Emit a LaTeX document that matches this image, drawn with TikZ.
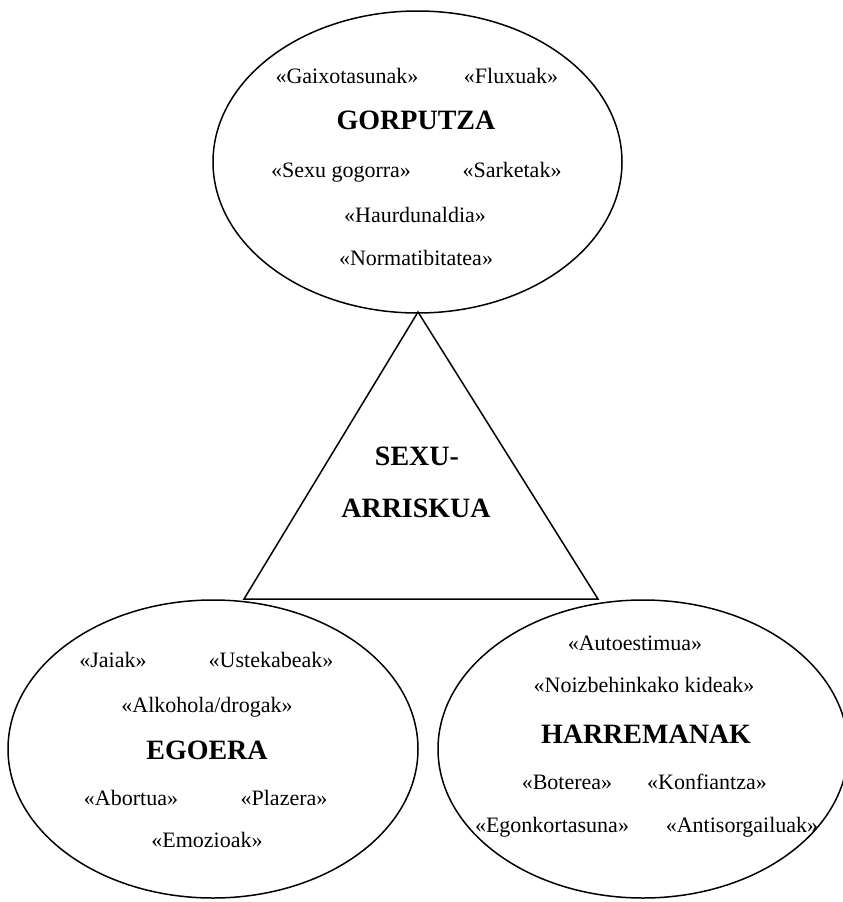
\documentclass[tikz,border=0pt]{standalone}
\usepackage{fontspec}
\setmainfont{Liberation Serif}
\usetikzlibrary{shapes.geometric}
\tikzset{
  shapeline/.style={draw=black, line width=1.5pt},
  item/.style={anchor=base, inner sep=0pt, font=\fontsize{22}{26}\selectfont},
  head/.style={anchor=base, inner sep=0pt, font=\fontsize{28}{32}\selectfont\bfseries},
}
\begin{document}
\begin{tikzpicture}[x=1pt,y=-1pt]
\useasboundingbox (0,0) rectangle (843,902);
\clip (0,0) rectangle (843,902);
% shapes
\draw[shapeline] (417.5,162) ellipse [x radius=204.5, y radius=151];
\draw[shapeline] (213,749) ellipse [x radius=205, y radius=149];
\draw[shapeline] (643,749) ellipse [x radius=205, y radius=149];
\coordinate (apex) at (418,312);
\coordinate (bl) at (244,599);
\coordinate (br) at (598,599);
\draw[shapeline, line join=miter] (apex) -- (bl) -- (br) -- cycle;
% top ellipse
\node[item] (g1) at (347,83) {«Gaixotasunak»};
\node[item] (g2) at (511,83) {«Fluxuak»};
\node[head] (gorputza) at (416,129) {GORPUTZA};
\node[item] (g3) at (341,177) {«Sexu gogorra»};
\node[item] (g4) at (512,177) {«Sarketak»};
\node[item] (g5) at (415,222) {«Haurdunaldia»};
\node[item] (g6) at (416,265) {«Normatibitatea»};
% triangle
\node[head] (sexu) at (417,465) {SEXU-};
\node[head] (arriskua) at (416,517) {ARRISKUA};
% bottom-left
\node[item] (e1) at (113,667) {«Jaiak»};
\node[item] (e2) at (271,667) {«Ustekabeak»};
\node[item] (e3) at (207,712) {«Alkohola/drogak»};
\node[head] (egoera) at (207,759) {EGOERA};
\node[item] (e4) at (131,805) {«Abortua»};
\node[item] (e5) at (284,805) {«Plazera»};
\node[item] (e6) at (207,847) {«Emozioak»};
% bottom-right
\node[item] (h1) at (635,650) {«Autoestimua»};
\node[item] (h2) at (644,692) {«Noizbehinkako kideak»};
\node[head] (harremanak) at (646,743) {HARREMANAK};
\node[item] (h3) at (567,789) {«Boterea»};
\node[item] (h4) at (707,789) {«Konfiantza»};
\node[item] (h5) at (552,832) {«Egonkortasuna»};
\node[item] (h6) at (742,832) {«Antisorgailuak»};
\end{tikzpicture}
\end{document}
